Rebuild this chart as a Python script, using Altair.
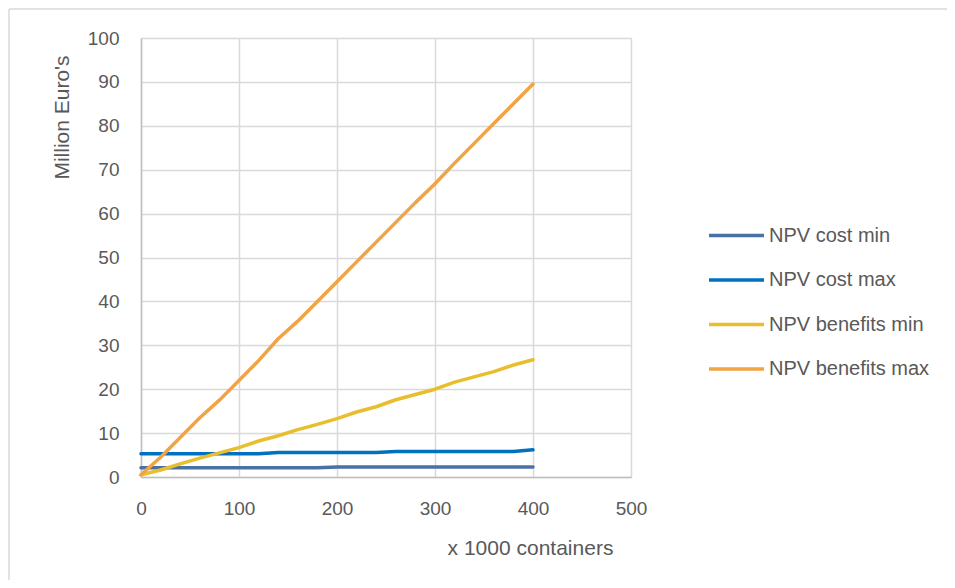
import altair as alt
import pandas as pd

x_vals = [0, 20, 40, 60, 80, 100, 120, 140, 160, 180, 200, 220, 240, 260, 280, 300, 320, 340, 360, 380, 400]
cost_min = [2.1, 2.1, 2.1, 2.1, 2.1, 2.1, 2.1, 2.1, 2.1, 2.1, 2.3, 2.3, 2.3, 2.3, 2.3, 2.3, 2.3, 2.3, 2.3, 2.3, 2.3]
cost_max = [5.3, 5.3, 5.3, 5.3, 5.3, 5.3, 5.3, 5.6, 5.6, 5.6, 5.6, 5.6, 5.6, 5.8, 5.8, 5.8, 5.8, 5.8, 5.8, 5.8, 6.2]
ben_min = [0.5, 1.6, 3.0, 4.3, 5.5, 6.7, 8.2, 9.4, 10.8, 12.0, 13.3, 14.8, 16.0, 17.6, 18.8, 20.0, 21.6, 22.8, 24.0, 25.5, 26.7]
ben_max = [0.5, 4.5, 9.0, 13.5, 17.5, 22.0, 26.5, 31.5, 35.5, 40.0, 44.5, 49.0, 53.5, 58.0, 62.5, 66.8, 71.5, 76.0, 80.5, 85.0, 89.5]

series_names = ["NPV cost min", "NPV cost max", "NPV benefits min", "NPV benefits max"]
series_colors = ["#4A71A6", "#0070C0", "#E8BE2C", "#F2A444"]
series_values = [cost_min, cost_max, ben_min, ben_max]

rows = []
for name, vals in zip(series_names, series_values):
    for xv, yv in zip(x_vals, vals):
        rows.append({"x": xv, "y": yv, "series": name})
df = pd.DataFrame(rows)

FONT = "Liberation Sans"
GRAY = "#595959"

one = pd.DataFrame({"a": [0]})
frame_top = alt.Chart(one).mark_rule(stroke="#D9D9D9", strokeWidth=1.5).encode(
    x=alt.value(-132), x2=alt.value(900), y=alt.value(-29)
)
frame_left = alt.Chart(one).mark_rule(stroke="#D9D9D9", strokeWidth=1.5).encode(
    x=alt.value(-132), y=alt.value(-29), y2=alt.value(900)
)

lines = alt.Chart(df).mark_line(strokeWidth=3.5, strokeCap="round", strokeJoin="round").encode(
    x=alt.X("x:Q",
            scale=alt.Scale(domain=[0, 500], nice=False),
            axis=alt.Axis(values=[0, 100, 200, 300, 400, 500], title="x 1000 containers",
                          grid=True, gridColor="#D9D9D9", gridWidth=1.5,
                          domainColor="#BFBFBF", domainWidth=1.5, ticks=False, labelFlush=False,
                          labelFont=FONT, labelFontSize=19, labelColor=GRAY, labelPadding=22,
                          titleFont=FONT, titleFontSize=21, titleFontWeight="normal", titleColor=GRAY,
                          titleX=389, titleY=71, titleAlign="center", titleBaseline="middle")),
    y=alt.Y("y:Q",
            scale=alt.Scale(domain=[0, 100], nice=False),
            axis=alt.Axis(values=list(range(0, 101, 10)), title="Million Euro's",
                          grid=True, gridColor="#D9D9D9", gridWidth=1.5,
                          domainColor="#BFBFBF", domainWidth=1.5, ticks=False, labelFlush=False,
                          labelFont=FONT, labelFontSize=19, labelColor=GRAY, labelPadding=22,
                          titleFont=FONT, titleFontSize=21, titleFontWeight="normal", titleColor=GRAY,
                          titleX=-79, titleY=79, titleAngle=-90, titleAlign="center", titleBaseline="middle")),
    color=alt.Color("series:N",
                    scale=alt.Scale(domain=series_names, range=series_colors),
                    legend=alt.Legend(title=None, orient="none", legendX=566, legendY=168,
                                      symbolType="stroke", symbolSize=3025, symbolStrokeWidth=3.5,
                                      labelFont=FONT, labelFontSize=20, labelColor=GRAY, labelLimit=300,
                                      rowPadding=4.5, labelOffset=3)),
    order=alt.Order("x:Q"),
)

chart = alt.layer(frame_top, frame_left, lines).properties(
    width=490, height=439,
    autosize=alt.AutoSizeParams(type="none"),
    padding={"left": 133, "top": 30, "right": 316, "bottom": 103},
).configure_view(stroke=None).configure(background="white")

chart.save("out.html", embed_options={"renderer": "svg", "actions": False})
